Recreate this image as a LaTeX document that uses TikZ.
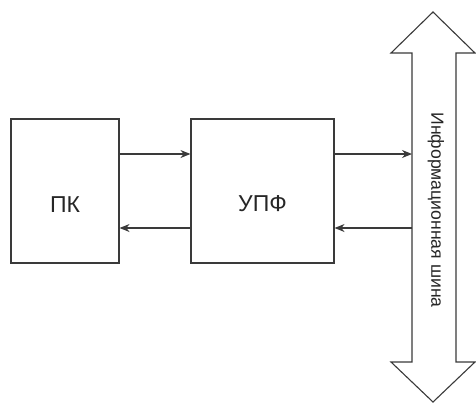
\documentclass[tikz,border=0pt]{standalone}
\usepackage{fontspec}
\setmainfont{Liberation Sans}
\usetikzlibrary{arrows.meta}
\definecolor{ln}{HTML}{3A3A3A}
\definecolor{tx}{HTML}{262626}
\begin{document}
\begin{tikzpicture}[x=1pt,y=-1pt,
  blk/.style={draw=ln,line width=1.1pt,fill=white,inner sep=0pt},
  conn/.style={draw=ln,line width=1.1pt,-{Stealth[length=10pt,width=8pt]}},
  lbl/.style={text=tx,font=\fontsize{23}{26}\selectfont}]
\useasboundingbox (0,0) rectangle (476,405);
\node[blk,minimum width=108pt,minimum height=144pt] (pk) at (65,191) {};
\node[lbl] (pkt) at (65,205) {ПК};
\node[blk,minimum width=143pt,minimum height=144pt] (upf) at (262.5,191) {};
\node[lbl] (upft) at (262.5,204) {УПФ};
\draw[draw=ln,line width=1.1pt,fill=white]
  (433,12) -- (475,53) -- (456,53) -- (456,362) -- (475,362) -- (433,402)
  -- (391,362) -- (412,362) -- (412,53) -- (391,53) -- cycle;
\coordinate (bt) at (412,154);
\coordinate (bb) at (412,228);
\node[text=tx,font=\fontsize{17.6}{20}\selectfont,rotate=-90] (bus) at (436,210) {Информационная шина};
\draw[conn] (pk.east |- 0,154) -- (upf.west |- 0,154);
\draw[conn] (upf.west |- 0,228) -- (pk.east |- 0,228);
\draw[conn] (upf.east |- 0,154) -- (bt);
\draw[conn] (bb) -- (upf.east |- 0,228);
\end{tikzpicture}
\end{document}
